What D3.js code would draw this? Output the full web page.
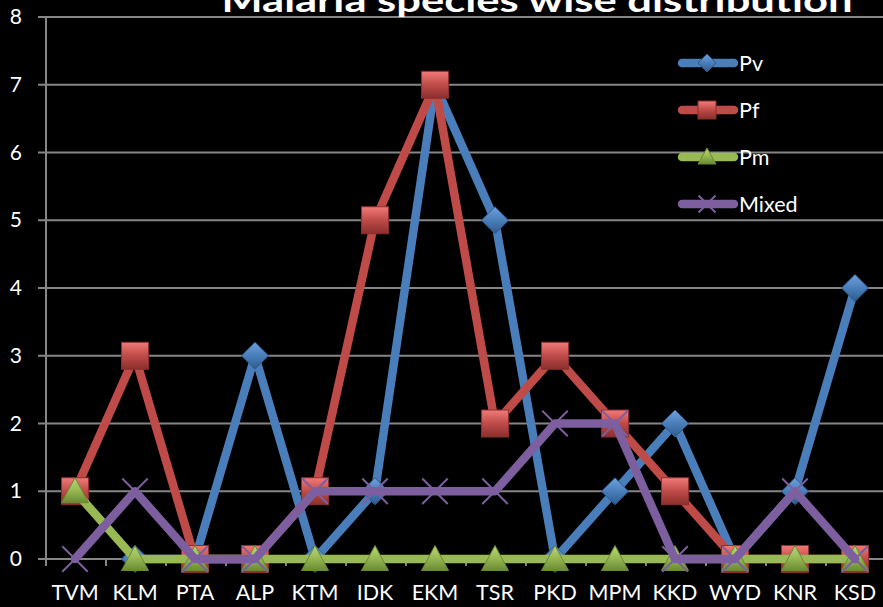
<!DOCTYPE html>
<html><head><meta charset="utf-8">
<script src="https://cdn.jsdelivr.net/npm/d3@7"></script>
<style>body{margin:0;background:#000;}svg{display:block;}</style>
</head><body>
<svg id="chart" width="883" height="607"></svg>
<script>
const categories = ["TVM","KLM","PTA","ALP","KTM","IDK","EKM","TSR","PKD","MPM","KKD","WYD","KNR","KSD"];
const pv    = [null,0,0,3,0,1,7,5,0,1,2,0,1,4];
const pf    = [1,3,0,0,1,5,7,2,3,2,1,0,0,0];
const pm    = [1,0,0,0,0,0,0,0,0,0,0,0,0,0];
const mixed = [0,1,0,0,1,1,1,1,2,2,0,0,1,0];
const yTicks = [0,1,2,3,4,5,6,7,8];
const seriesNames = ["Pv","Pf","Pm","Mixed"];
const title = "Malaria species wise distribution";

const series = [
  {name:"Pv", values:pv, color:"#4A7EBB", light:"#6FA0DC", dark:"#2E5A8C", shape:"diamond"},
  {name:"Pf", values:pf, color:"#BE4B48", light:"#F07A78", dark:"#8A2F2D", shape:"square"},
  {name:"Pm", values:pm, color:"#98B954", light:"#B8D778", dark:"#6A8A34", shape:"triangle"},
  {name:"Mixed", values:mixed, color:"#7D5FA0", light:"#9A7DBD", dark:"#5A4278", shape:"x"}
];

const svg = d3.select("#chart");
const x = d3.scaleBand().domain(categories).range([45,885]).padding(0);
const cx = c => x(c) + x.bandwidth()/2;
const y = d3.scaleLinear().domain([0,8]).range([559,17]);

const defs = svg.append("defs");
series.forEach(s=>{
  const g = defs.append("linearGradient").attr("id","g"+s.name).attr("x1",0).attr("y1",0).attr("x2",0).attr("y2",1);
  g.append("stop").attr("offset","0%").attr("stop-color",s.light);
  g.append("stop").attr("offset","50%").attr("stop-color",s.color);
  g.append("stop").attr("offset","100%").attr("stop-color",s.dark);
});

// gridlines
const grid = svg.append("g");
yTicks.forEach(t=>{
  grid.append("line").attr("x1",38).attr("x2",883).attr("y1",y(t)).attr("y2",y(t))
    .attr("stroke","#868686").attr("stroke-width",2);
});
// y axis line
svg.append("line").attr("x1",46).attr("x2",46).attr("y1",y(8)).attr("y2",y(0)+7)
  .attr("stroke","#868686").attr("stroke-width",2);
// x ticks at band boundaries
categories.forEach(c=>{
  svg.append("line").attr("x1",x(c)+1).attr("x2",x(c)+1).attr("y1",y(0)).attr("y2",y(0)+7)
    .attr("stroke","#868686").attr("stroke-width",2);
});

// y labels
yTicks.forEach(t=>{
  svg.append("text").attr("x",22).attr("y",y(t)+7).attr("text-anchor","end")
    .attr("font-family","Lato").attr("font-size",21).attr("fill","#fff").text(t);
});
// x labels
categories.forEach(c=>{
  svg.append("text").attr("x",cx(c)).attr("y",600).attr("text-anchor","middle")
    .attr("font-family","Lato").attr("font-size",21.5).attr("fill","#fff").text(c);
});

function marker(g, shape, s, px, py, size){
  const h = size/2;
  if(shape==="diamond"){
    g.append("path").attr("d",`M${px},${py-h}L${px+h},${py}L${px},${py+h}L${px-h},${py}Z`)
      .attr("fill","url(#g"+s.name+")").attr("stroke",s.dark).attr("stroke-width",1);
  } else if(shape==="square"){
    g.append("rect").attr("x",px-h).attr("y",py-h).attr("width",size).attr("height",size)
      .attr("fill","url(#g"+s.name+")").attr("stroke",s.dark).attr("stroke-width",1);
  } else if(shape==="triangle"){
    g.append("path").attr("d",`M${px},${py-h}L${px+h},${py+h-2}L${px-h},${py+h-2}Z`)
      .attr("fill","url(#g"+s.name+")").attr("stroke",s.dark).attr("stroke-width",1);
  } else {
    const k = h*0.85;
    g.append("path").attr("d",`M${px-k},${py-k}L${px+k},${py+k}M${px+k},${py-k}L${px-k},${py+k}`)
      .attr("stroke",s.color).attr("stroke-width",2);
  }
}

const line = d3.line().defined(d=>d.v!==null).x(d=>cx(d.c)).y(d=>y(d.v));
series.forEach(s=>{
  const g = svg.append("g");
  const pts = categories.map((c,i)=>({c, v:s.values[i]}));
  g.append("path").attr("d",line(pts)).attr("fill","none").attr("stroke",s.color)
    .attr("stroke-width",8.5).attr("stroke-linejoin","round").attr("stroke-linecap","round");
  pts.filter(d=>d.v!==null).forEach(d=>marker(g, s.shape, s, cx(d.c), y(d.v), s.shape==="x"?30:27));
});

// legend
const legY = [63,110,157,204];
series.forEach((s,i)=>{
  const g = svg.append("g");
  g.append("line").attr("x1",682).attr("x2",734).attr("y1",legY[i]).attr("y2",legY[i])
    .attr("stroke",s.color).attr("stroke-width",8.5).attr("stroke-linecap","round");
  marker(g, s.shape, s, 707, legY[i], s.shape==="x"?20:18);
  g.append("text").attr("x",739).attr("y",legY[i]+8).attr("font-family","Lato").attr("font-size",21.5)
    .attr("fill","#fff").text(seriesNames[i]);
});

// title
svg.append("text").attr("x",537).attr("y",12).attr("text-anchor","middle")
  .attr("font-family","Lato").attr("font-weight","bold").attr("font-size",33)
  .attr("fill","#fff").attr("textLength",631).attr("lengthAdjust","spacingAndGlyphs").text(title);
</script>
</body></html>
